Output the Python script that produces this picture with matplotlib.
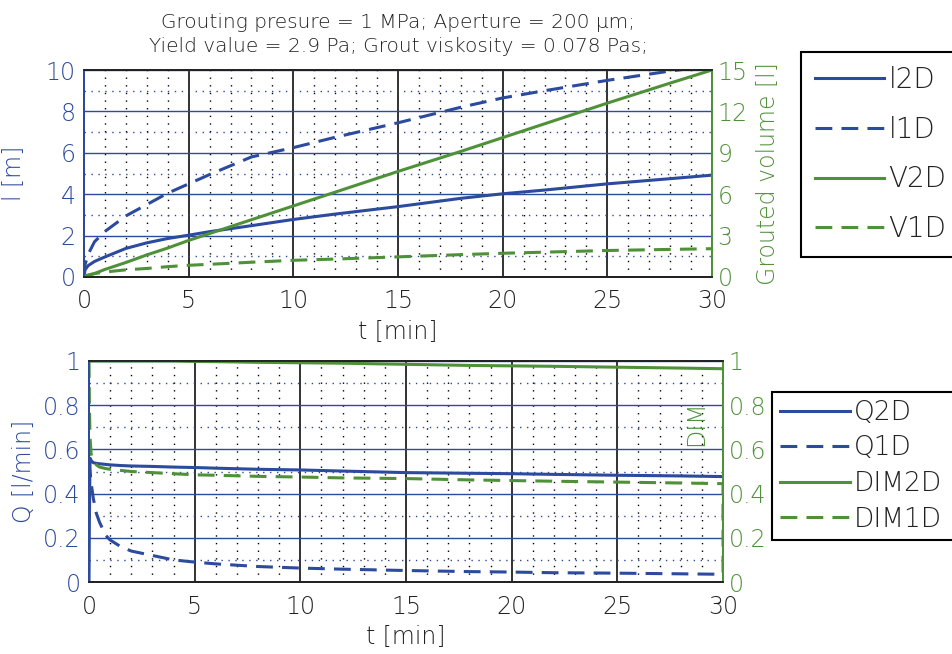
import numpy as np
import matplotlib
matplotlib.use('Agg')
import matplotlib.pyplot as plt
from matplotlib.ticker import MultipleLocator

plt.rcParams['font.family'] = ['DejaVu Sans']
plt.rcParams['font.weight'] = 'light'
plt.rcParams['axes.labelweight'] = 'light'
plt.rcParams['axes.titleweight'] = 'light'

BLUE = '#2c4a9e'
GREEN = '#4f9138'
DARK = '#222222'

# top panel: penetration length [m] and grouted volume [l]
t_top = [0, 0.05, 0.2, 0.5, 1, 2, 3, 4, 5, 6, 8, 10, 12, 15, 18, 20, 22, 25, 28, 30]
l_2d = [0, 0.35, 0.55, 0.75, 0.97, 1.38, 1.65, 1.86, 2.02, 2.19, 2.48, 2.78, 3.04,
        3.4, 3.8, 4.02, 4.2, 4.5, 4.75, 4.92]
l_1d = [0, 0.6, 1.1, 1.7, 2.2, 2.95, 3.5, 4.05, 4.5, 4.95, 5.8, 6.25, 6.75, 7.45,
        8.2, 8.65, 9.0, 9.5, 9.95, 10.2]
v_2d = [0, 0.03, 0.1, 0.25, 0.55, 1.05, 1.6, 2.1, 2.65, 3.15, 4.15, 5.15, 6.15,
        7.65, 9.1, 10.1, 11.1, 12.6, 14.05, 15.0]
v_1d = [0, 0.08, 0.15, 0.25, 0.36, 0.52, 0.62, 0.75, 0.85, 0.92, 1.07, 1.21, 1.3,
        1.46, 1.62, 1.72, 1.8, 1.92, 2.0, 2.05]

# bottom panel: flow [l/min] and DIM
t_bot = [0, 0.02, 0.05, 0.1, 0.2, 0.35, 0.5, 0.8, 1, 1.5, 2, 3, 4, 5, 6, 8, 10,
         12, 15, 18, 20, 22, 25, 28, 30]
q_2d = [0, 0.3, 0.56, 0.55, 0.54, 0.537, 0.535, 0.532, 0.53, 0.527, 0.525, 0.523,
        0.52, 0.518, 0.515, 0.51, 0.507, 0.502, 0.495, 0.492, 0.49, 0.487, 0.483,
        0.48, 0.477]
q_1d = [0.55, 0.52, 0.5, 0.45, 0.38, 0.31, 0.27, 0.21, 0.19, 0.16, 0.14, 0.12,
        0.1, 0.09, 0.082, 0.07, 0.063, 0.058, 0.052, 0.047, 0.045, 0.042, 0.04,
        0.037, 0.035]
dim_2d = [1.0, 1.0, 1.0, 1.0, 1.0, 1.0, 1.0, 1.0, 1.0, 1.0, 1.0, 1.0, 1.0, 0.998,
          0.997, 0.994, 0.992, 0.99, 0.985, 0.98, 0.978, 0.976, 0.972, 0.968, 0.965]
t_dim1 = t_bot + [30]
dim_1d = [1.0, 0.8, 0.65, 0.58, 0.55, 0.53, 0.52, 0.513, 0.51, 0.505, 0.5, 0.495,
          0.49, 0.485, 0.483, 0.478, 0.475, 0.471, 0.468, 0.462, 0.459, 0.456,
          0.452, 0.448, 0.445, 0.0]

title = ('Grouting presure = 1 MPa; Aperture = 200 \u00b5m;\n'
         'Yield value = 2.9 Pa; Grout viskosity = 0.078 Pas;')

fig = plt.figure(figsize=(9.52, 6.54), dpi=100)
W, H = 952., 654.
ax1 = fig.add_axes([84 / W, 1 - 277 / H, 628 / W, 207 / H])
ax2 = fig.add_axes([89 / W, 1 - 582 / H, 634 / W, 221 / H])
ax1r = ax1.twinx()
ax2r = ax2.twinx()

dash = (5.5, 3)
lw = 2.2


def style(ax, axr, ymax, ystep, yminor, rmax, rstep):
    ax.set_xlim(0, 30)
    ax.set_ylim(0, ymax)
    axr.set_ylim(0, rmax)
    ax.xaxis.set_major_locator(MultipleLocator(5))
    ax.xaxis.set_minor_locator(MultipleLocator(1))
    ax.yaxis.set_major_locator(MultipleLocator(ystep))
    ax.yaxis.set_minor_locator(MultipleLocator(yminor))
    axr.yaxis.set_major_locator(MultipleLocator(rstep))
    ax.grid(which='major', axis='x', color=DARK, lw=1.3, ls='-')
    ax.grid(which='major', axis='y', color=BLUE, lw=1.0, ls='-')
    ax.grid(which='minor', axis='x', color='k', lw=1.0, ls=(0, (1, 4.5)))
    ax.grid(which='minor', axis='y', color=BLUE, lw=1.0, ls=(0, (1, 4)))
    ax.set_axisbelow(True)
    ax.tick_params(axis='x', which='both', direction='in', length=0,
                   labelsize=17, labelcolor=DARK, pad=9)
    ax.tick_params(axis='y', which='both', direction='in', length=0,
                   labelsize=17, labelcolor=BLUE, pad=6)
    axr.tick_params(axis='y', which='both', direction='in', length=0,
                    labelsize=17, labelcolor=GREEN, pad=4)
    for a in (ax, axr):
        a.spines['left'].set_color(BLUE)
        a.spines['right'].set_color(GREEN)
        a.spines['top'].set_color(DARK)
        a.spines['bottom'].set_color(DARK)
        for s in a.spines.values():
            s.set_linewidth(1.3)
    ax.set_xlabel('t [min]', fontsize=17, color=DARK, labelpad=5)


style(ax1, ax1r, 10, 2, 1, 15, 3)
style(ax2, ax2r, 1, 0.2, 0.1, 1, 0.2)
ax2.set_yticks([0, 0.2, 0.4, 0.6, 0.8, 1])
ax2.set_yticklabels(['0', '0.2', '0.4', '0.6', '0.8', '1'])
ax2r.set_yticks([0, 0.2, 0.4, 0.6, 0.8, 1])
ax2r.set_yticklabels(['0', '0.2', '0.4', '0.6', '0.8', '1'])

h1, = ax1.plot(t_top, l_2d, color=BLUE, lw=lw, label='l2D')
h2, = ax1.plot(t_top, l_1d, color=BLUE, lw=lw, dashes=dash, label='l1D')
h3, = ax1r.plot(t_top, v_2d, color=GREEN, lw=lw, label='V2D')
h4, = ax1r.plot(t_top, v_1d, color=GREEN, lw=lw, dashes=dash, label='V1D')

g1, = ax2.plot(t_bot, q_2d, color=BLUE, lw=lw, label='Q2D')
g2, = ax2.plot(t_bot, q_1d, color=BLUE, lw=lw, dashes=dash, label='Q1D')
g3, = ax2r.plot(t_bot, dim_2d, color=GREEN, lw=lw, label='DIM2D')
g4, = ax2r.plot(t_dim1, dim_1d, color=GREEN, lw=lw, dashes=dash, label='DIM1D')

ax1.set_title(title, fontsize=14.5, color=DARK, pad=13, linespacing=1.35)
ax1.set_ylabel('l [m]', fontsize=17, color=BLUE, labelpad=14)
ax1r.set_ylabel('Grouted volume [l]', fontsize=17, color=GREEN, labelpad=6)
ax2.set_ylabel('Q [l/min]', fontsize=17, color=BLUE, labelpad=5)
ax2r.text(0.958, 0.72, 'DIM', transform=ax2r.transAxes, rotation=90,
          fontsize=17, color=GREEN, ha='center', va='center')

leg1 = fig.legend([h1, h2, h3, h4], ['l2D', 'l1D', 'V2D', 'V1D'],
                  loc='upper left', bbox_to_anchor=(801 / W, 1 - 52 / H, 0.2, 0),
                  mode='expand', borderaxespad=0, fontsize=20, handlelength=2.5,
                  handletextpad=0.15, labelspacing=0.78, borderpad=0.5,
                  fancybox=False, framealpha=1, edgecolor='k')
leg1.get_frame().set_linewidth(1.5)
for txt in leg1.get_texts():
    txt.set_color(DARK)

leg2 = fig.legend([g1, g2, g3, g4], ['Q2D', 'Q1D', 'DIM2D', 'DIM1D'],
                  loc='upper left', bbox_to_anchor=(772 / W, 1 - 392 / H, 0.25, 0),
                  mode='expand', borderaxespad=0, fontsize=19, handlelength=2.65,
                  handletextpad=0.15, labelspacing=0.4, borderpad=0.3,
                  fancybox=False, framealpha=1, edgecolor='k')
leg2.get_frame().set_linewidth(1.5)
for txt in leg2.get_texts():
    txt.set_color(DARK)

fig.savefig('out.png', dpi=100)
